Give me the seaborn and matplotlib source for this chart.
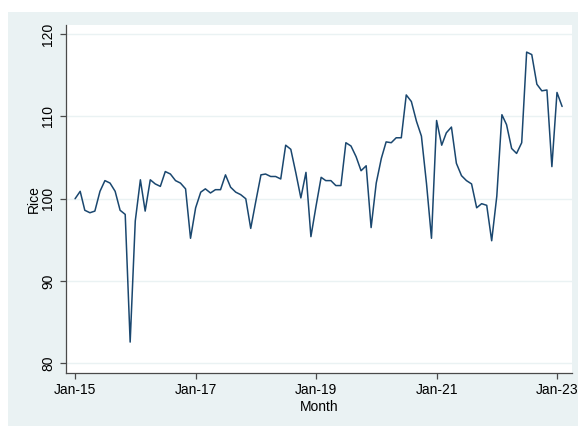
import matplotlib
matplotlib.use("Agg")
import matplotlib.pyplot as plt
import matplotlib.dates as mdates
from matplotlib.patches import Rectangle
import numpy as np
import pandas as pd
import seaborn as sns

# Monthly rice index, Jan-2015 .. Feb-2023
start_month = "2015-01-01"
rice = [
    100.0, 100.9, 98.6, 98.3, 98.5, 100.9, 102.2, 101.9, 100.9, 98.6, 98.1, 82.6,
    97.3, 102.3, 98.5, 102.3, 101.8, 101.5, 103.3, 103.0, 102.2, 101.9, 101.2, 95.2,
    98.9, 100.8, 101.2, 100.7, 101.1, 101.1, 102.9, 101.4, 100.8, 100.5, 100.0, 96.4,
    99.7, 102.9, 103.0, 102.7, 102.7, 102.4, 106.5, 106.0, 103.1, 100.1, 103.2, 95.4,
    99.1, 102.6, 102.2, 102.2, 101.6, 101.6, 106.8, 106.4, 105.1, 103.4, 104.0, 96.5,
    101.9, 104.9, 106.9, 106.8, 107.4, 107.4, 112.6, 111.8, 109.4, 107.6, 101.8, 95.2,
    109.5, 106.5, 108.0, 108.7, 104.3, 102.8, 102.2, 101.8, 98.9, 99.4, 99.2, 94.9,
    100.3, 110.2, 109.0, 106.1, 105.5, 106.8, 117.8, 117.5, 113.9, 113.1, 113.2, 103.9,
    112.9, 111.2,
]
tick_dates = ["2015-01-01", "2017-01-01", "2019-01-01", "2021-01-01", "2023-01-01"]
y_ticks = [80, 90, 100, 110, 120]

df = pd.DataFrame({
    "Month": pd.date_range(start_month, periods=len(rice), freq="MS"),
    "Rice": rice,
})

sns.set_theme(style="white")
plt.rcParams["font.family"] = ["Liberation Sans", "DejaVu Sans"]

BG = "#EAF2F3"
LINE = "#1a476f"
AXC = "#4a4a4a"

fig = plt.figure(figsize=(5.78, 4.26), dpi=100, facecolor="white")
# outer graph region, kept behind the axes
fig.add_artist(Rectangle((8 / 578, 0), 1 - 8 / 578, (426 - 12) / 426,
                         transform=fig.transFigure, facecolor=BG,
                         edgecolor="none", zorder=-10))

ax = fig.add_axes([66 / 578, (426 - 373.3) / 426, (572 - 66) / 578, (373.3 - 25) / 426])
ax.set_zorder(5)
ax.set_facecolor("white")

sns.lineplot(data=df, x="Month", y="Rice", ax=ax, color=LINE, linewidth=1.1)

ax.set_ylim(78.81, 121.09)
ax.set_xlim(pd.Timestamp("2014-11-07"), pd.Timestamp("2023-04-02"))

ax.set_yticks(y_ticks)
ax.set_xticks(pd.to_datetime(tick_dates))
ax.xaxis.set_major_formatter(mdates.DateFormatter("%b-%y"))

ax.grid(axis="y", color=BG, linewidth=1.0)
ax.grid(axis="x", visible=False)
ax.set_axisbelow(True)

for side in ["top", "right"]:
    ax.spines[side].set_visible(False)
for side in ["left", "bottom"]:
    ax.spines[side].set_color(AXC)
    ax.spines[side].set_linewidth(0.9)

ax.tick_params(axis="both", which="major", direction="out", length=4,
               width=0.9, color=AXC, labelsize=10, labelcolor="black")
ax.tick_params(axis="y", pad=4, left=True)
ax.tick_params(axis="x", pad=3, bottom=True)
for lbl in ax.get_yticklabels():
    lbl.set_rotation(90)
    lbl.set_va("center")

ax.set_ylabel("Rice", fontsize=10, labelpad=0, color="black")
ax.set_xlabel("Month", fontsize=10, labelpad=2, color="black")

fig.savefig("out.png", dpi=100, facecolor=fig.get_facecolor())
